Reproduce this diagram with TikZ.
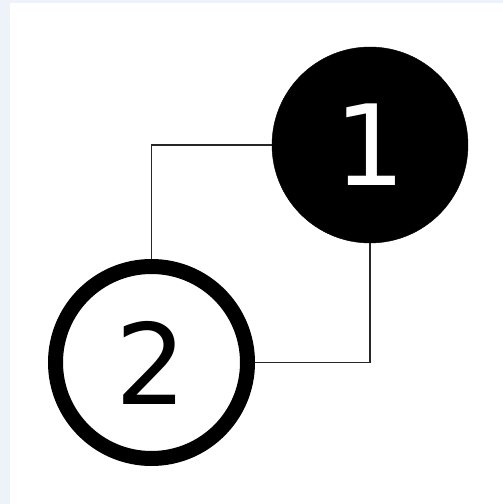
\documentclass[tikz,border=0pt]{standalone}
\usepackage{fontspec}
\setmainfont{DejaVu Sans}
\usetikzlibrary{positioning}
\definecolor{paneblue}{HTML}{EEF2F9}

\begin{document}
\begin{tikzpicture}[
  x=1pt, y=1pt,
  font=\fontsize{112}{120}\selectfont,
  dark/.style={circle, fill=black, draw=black, text=white, minimum size=196pt, inner sep=0pt},
  ring/.style={circle, fill=white, draw=black, line width=15pt, minimum size=192pt, inner sep=0pt},
  link/.style={line width=1.4pt, draw=black!85}
]
% backdrop
\fill[paneblue] (0,0) rectangle (503,504);
\fill[white] (10,0) rectangle (503,501);
\useasboundingbox (0,0) rectangle (503,504);

\node[dark] (one) at (370,359) {1};
\node[ring] (two) at (151.5,141.5) {2};

\draw[link] (one.west) -| (two.north);
\draw[link] (two.east) -| (one.south);
\end{tikzpicture}
\end{document}
